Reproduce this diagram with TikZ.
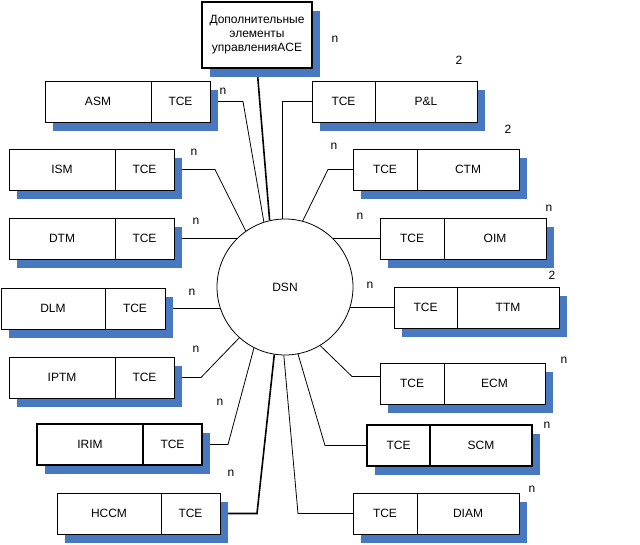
\documentclass[tikz,border=0pt]{standalone}
\usepackage{fontspec}
\setmainfont{Liberation Sans}
\usetikzlibrary{positioning,backgrounds}

\definecolor{dsnblue}{RGB}{72,120,192}

\begin{document}
\begin{tikzpicture}[x=1pt,y=-1pt,
    cell/.style={draw, fill=white, line width=0.8pt, minimum height=41pt,
        inner sep=0pt, outer sep=0pt, font=\fontsize{12}{14}\selectfont},
    thickcell/.style={cell, line width=1.8pt},
    backdrop/.style={fill=dsnblue},
    link/.style={line width=0.8pt},
    heavy/.style={line width=1.6pt},
    mult/.style={inner sep=0pt, font=\fontsize{12}{14}\selectfont}]

    % Fix the picture size to the reference
    \useasboundingbox (0,0) rectangle (640,545);

    % Central switching network
    \node[draw, circle, fill=white, minimum size=136pt, inner sep=0pt, line width=0.8pt,
        font=\fontsize{12}{14}\selectfont] (dsn) at (285,287) {DSN};

    % Extra control elements on top
    \node[cell, line width=1.8pt, minimum width=110pt, minimum height=66pt, align=center]
        (extra) at (257,35) {Дополнительные\\элементы\\управленияACE};

    % Modules on the left: name first, then TCE
    \node[cell, minimum width=106pt, anchor=north west] (asm) at (45,81) {ASM};
    \node[cell, minimum width=59pt, right=0pt of asm] (asmtce) {TCE};

    \node[cell, minimum width=106pt, anchor=north west] (ism) at (9,149) {ISM};
    \node[cell, minimum width=59pt, right=0pt of ism] (ismtce) {TCE};

    \node[cell, minimum width=106pt, anchor=north west] (dtm) at (9,218) {DTM};
    \node[cell, minimum width=59pt, right=0pt of dtm] (dtmtce) {TCE};

    \node[cell, minimum width=104pt, anchor=north west] (dlm) at (1,288) {DLM};
    \node[cell, minimum width=60pt, right=0pt of dlm] (dlmtce) {TCE};

    \node[cell, minimum width=106pt, anchor=north west] (iptm) at (9,357) {IPTM};
    \node[cell, minimum width=59pt, right=0pt of iptm] (iptmtce) {TCE};

    \node[thickcell, minimum width=106pt, anchor=north west] (irim) at (37,424) {IRIM};
    \node[thickcell, minimum width=59pt, right=0pt of irim] (irimtce) {TCE};

    \node[cell, minimum width=104pt, anchor=north west] (hccm) at (57,493) {HCCM};
    \node[cell, minimum width=59pt, right=0pt of hccm] (hccmtce) {TCE};

    % Modules on the right: TCE first, then name
    \node[cell, minimum width=63pt, anchor=north west] (pltce) at (312,81) {TCE};
    \node[cell, minimum width=102pt, right=0pt of pltce] (pl) {P\&L};

    \node[cell, minimum width=64pt, anchor=north west] (ctmtce) at (353,149) {TCE};
    \node[cell, minimum width=102pt, right=0pt of ctmtce] (ctm) {CTM};

    \node[cell, minimum width=64pt, anchor=north west] (oimtce) at (380,218) {TCE};
    \node[cell, minimum width=102pt, right=0pt of oimtce] (oim) {OIM};

    \node[cell, minimum width=63pt, anchor=north west] (ttmtce) at (394,287) {TCE};
    \node[cell, minimum width=102pt, right=0pt of ttmtce] (ttm) {TTM};

    \node[cell, minimum width=64pt, anchor=north west] (ecmtce) at (380,363) {TCE};
    \node[cell, minimum width=101pt, right=0pt of ecmtce] (ecm) {ECM};

    \node[thickcell, minimum width=63pt, anchor=north west] (scmtce) at (367,425) {TCE};
    \node[thickcell, minimum width=102pt, right=0pt of scmtce] (scm) {SCM};

    \node[cell, minimum width=64pt, anchor=north west] (diamtce) at (353,493) {TCE};
    \node[cell, minimum width=102pt, right=0pt of diamtce] (diam) {DIAM};

    % Multiplicity marks
    \node[mult] (nextra) at (335,39) {n};
    \node[mult] (npl) at (459,60) {2};
    \node[mult] (nasm) at (223,91) {n};
    \node[mult] (nctm) at (508,129) {2};
    \node[mult] (nism) at (194,152) {n};
    \node[mult] (nctml) at (334,146) {n};
    \node[mult] (ndtm) at (196,221) {n};
    \node[mult] (noiml) at (360,216) {n};
    \node[mult] (noim) at (549,208) {n};
    \node[mult] (nttm) at (552,275) {2};
    \node[mult] (ndlm) at (192,292) {n};
    \node[mult] (nttml) at (370,285) {n};
    \node[mult] (niptm) at (196,349) {n};
    \node[mult] (necm) at (564,360) {n};
    \node[mult] (nirim) at (220,402) {n};
    \node[mult] (nscm) at (547,425) {n};
    \node[mult] (nhccm) at (231,473) {n};
    \node[mult] (ndiam) at (532,489) {n};

    \begin{scope}[on background layer]
        % Links to the network
        \draw[heavy] (extra.south) -- (dsn.103);
        \draw[link] (asmtce.east) -- ++(33,0) -- (dsn.108);
        \draw[link] (pltce.west) -| (dsn.92);
        \draw[link] (ismtce.east) -- ++(41,0) -- (dsn.125);
        \draw[link] (ctmtce.west) -- ++(-25,0) -- (dsn.75);
        \draw[link] (dtmtce.east) -- (dtmtce.east -| dsn.135);
        \draw[link] (oimtce.west) -- (oimtce.west -| dsn.45);
        \draw[link] (dlmtce.east) -- (dlmtce.east -| dsn.199);
        \draw[link] (ttmtce.west) -- (ttmtce.west -| dsn.-18);
        \draw[link] (iptmtce.east) -- ++(27,0) -- (dsn.-132);
        \draw[link] ([yshift=7pt]ecmtce.west) -- ++(-28,0) -- (dsn.-59);
        \draw[link] (irimtce.east) -- ++(26,0) -- (dsn.-117);
        \draw[link] (scmtce.west) -- ++(-42,0) -- (dsn.-79);
        \draw[heavy] (hccmtce.east) -- ++(37,0) -- (dsn.-99);
        \draw[link] (diamtce.west) -- ++(-55,0) -- (dsn.-91);

        % Blue shadows behind the boxes
        \fill[backdrop] ([shift={(8,9)}]extra.north west) rectangle ([shift={(8,9)}]extra.south east);
        \fill[backdrop] ([shift={(8,9)}]asm.north west) rectangle ([shift={(8,9)}]asmtce.south east);
        \fill[backdrop] ([shift={(8,9)}]ism.north west) rectangle ([shift={(8,9)}]ismtce.south east);
        \fill[backdrop] ([shift={(8,9)}]dtm.north west) rectangle ([shift={(8,9)}]dtmtce.south east);
        \fill[backdrop] ([shift={(8,9)}]dlm.north west) rectangle ([shift={(8,9)}]dlmtce.south east);
        \fill[backdrop] ([shift={(8,9)}]iptm.north west) rectangle ([shift={(8,9)}]iptmtce.south east);
        \fill[backdrop] ([shift={(8,9)}]irim.north west) rectangle ([shift={(8,9)}]irimtce.south east);
        \fill[backdrop] ([shift={(8,9)}]hccm.north west) rectangle ([shift={(8,9)}]hccmtce.south east);
        \fill[backdrop] ([shift={(8,9)}]pltce.north west) rectangle ([shift={(8,9)}]pl.south east);
        \fill[backdrop] ([shift={(8,9)}]ctmtce.north west) rectangle ([shift={(8,9)}]ctm.south east);
        \fill[backdrop] ([shift={(8,9)}]oimtce.north west) rectangle ([shift={(8,9)}]oim.south east);
        \fill[backdrop] ([shift={(8,9)}]ttmtce.north west) rectangle ([shift={(8,9)}]ttm.south east);
        \fill[backdrop] ([shift={(8,9)}]ecmtce.north west) rectangle ([shift={(8,9)}]ecm.south east);
        \fill[backdrop] ([shift={(8,9)}]scmtce.north west) rectangle ([shift={(8,9)}]scm.south east);
        \fill[backdrop] ([shift={(8,9)}]diamtce.north west) rectangle ([shift={(8,9)}]diam.south east);
    \end{scope}

\end{tikzpicture}
\end{document}
